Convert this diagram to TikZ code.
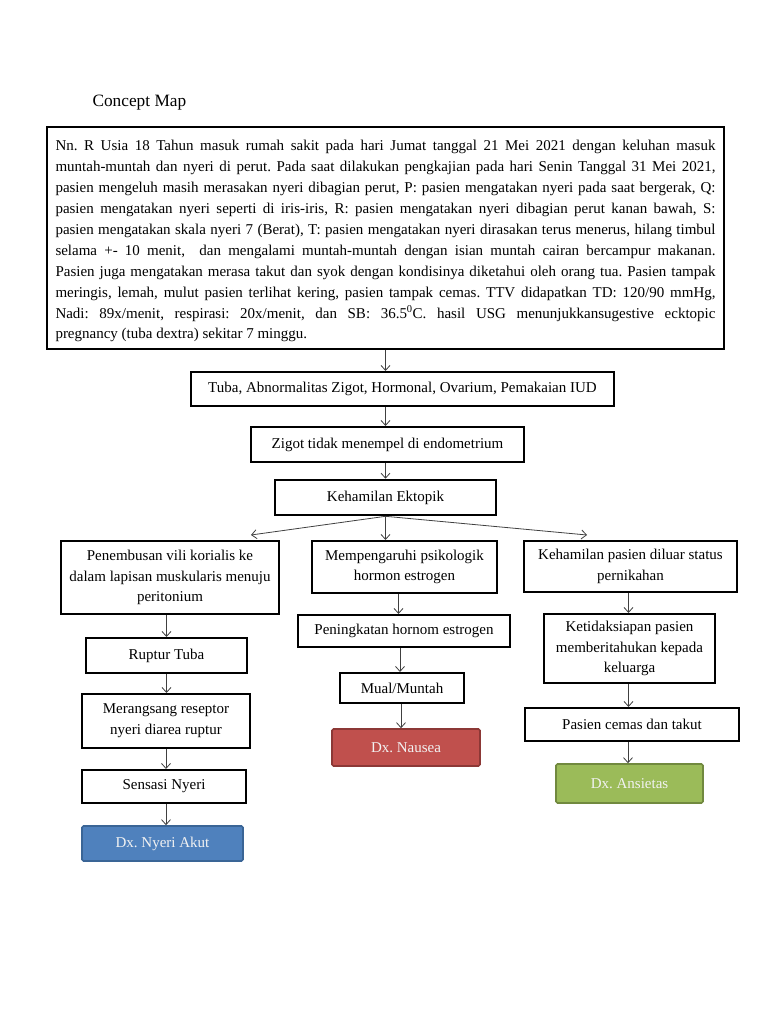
\documentclass[tikz,border=0pt]{standalone}
\usepackage{fontspec}
\setmainfont{Liberation Serif}
\usetikzlibrary{arrows.meta,positioning,calc}

\definecolor{dxblue}{HTML}{4F81BD}
\definecolor{dxblueline}{HTML}{3A6596}
\definecolor{dxred}{HTML}{C0504D}
\definecolor{dxredline}{HTML}{8C3836}
\definecolor{dxgreen}{HTML}{9BBB59}
\definecolor{dxgreenline}{HTML}{71893F}
\frenchspacing

\begin{document}
\begin{tikzpicture}[x=1pt, y=-1pt,
  box/.style={rectangle, draw, line width=2pt, align=center, inner sep=2pt,
    font=\fontsize{15}{20.8}\selectfont},
  dx/.style={rectangle, draw, line width=1.6pt, rounded corners=1.5pt,
    text=white!95!black, inner sep=2pt, font=\fontsize{15}{20.8}\selectfont},
  arrow/.style={-{Straight Barb[length=5pt,width=9pt]}, line width=0.8pt,
    draw=black!75}]
  \useasboundingbox (0,0) rectangle (768,1024);
  \node[anchor=west, font=\fontsize{17.3}{20}\selectfont] (title) at (89,103) {Concept Map};
  \node[box, line width=2.6pt, text width=660pt, align=justify, inner xsep=8.5pt,
    minimum height=222pt, font=\fontsize{15}{20.9}\selectfont] (case) at (385.5,238)
    {\rule{0pt}{17pt}Nn. R Usia 18 Tahun masuk rumah sakit pada hari Jumat tanggal 21 Mei 2021 dengan keluhan masuk\linebreak
     muntah-muntah dan nyeri di perut. Pada saat dilakukan pengkajian pada hari Senin Tanggal 31 Mei 2021,\linebreak
     pasien mengeluh masih merasakan nyeri dibagian perut, P: pasien mengatakan nyeri pada saat bergerak, Q:\linebreak
     pasien mengatakan nyeri seperti di iris-iris, R: pasien mengatakan nyeri dibagian perut kanan bawah, S:\linebreak
     pasien mengatakan skala nyeri 7 (Berat), T: pasien mengatakan nyeri dirasakan terus menerus, hilang timbul\linebreak
     selama +- 10 menit, \ dan mengalami muntah-muntah dengan isian muntah cairan bercampur makanan.\linebreak
     Pasien juga mengatakan merasa takut dan syok dengan kondisinya diketahui oleh orang tua. Pasien tampak\linebreak
     meringis, lemah, mulut pasien terlihat kering, pasien tampak cemas. TTV didapatkan TD: 120/90 mmHg,\linebreak
     Nadi: 89x/menit, respirasi: 20x/menit, dan SB: 36.5\textsuperscript{0}C. hasil USG menunjukkansugestive ecktopic\linebreak
     pregnancy (tuba dextra) sekitar 7 minggu.};
  % causes
  \node[box, minimum width=423pt, minimum height=34pt] (tuba) at (402.5,389)
    {Tuba, Abnormalitas Zigot, Hormonal, Ovarium, Pemakaian IUD};
  \node[box, minimum width=273pt, minimum height=35pt] (zigot) at (387.5,444.5)
    {Zigot tidak menempel di endometrium};
  \node[box, line width=2.6pt, minimum width=221pt, minimum height=35pt] (ekto) at (385.5,497.5)
    {Kehamilan Ektopik};
  % left branch
  \node[box, minimum width=218pt, minimum height=73pt] (vili) at (170,577.5)
    {Penembusan vili korialis ke\\dalam lapisan muskularis menuju\\peritonium};
  \node[box, minimum width=161pt, minimum height=35pt] (ruptur) at (166.5,655.5) {Ruptur Tuba};
  \node[box, minimum width=168pt, minimum height=54pt] (reseptor) at (166,721)
    {Merangsang reseptor\\nyeri diarea ruptur};
  \node[box, minimum width=164pt, minimum height=33pt] (sensasi) at (164,786.5) {Sensasi Nyeri};
  \node[dx, fill=dxblue, draw=dxblueline, minimum width=161pt, minimum height=35pt] (nyeri)
    at (162.5,843.5) {Dx. Nyeri Akut};
  % middle branch
  \node[box, minimum width=185pt, minimum height=52pt] (psiko) at (404.5,567)
    {Mempengaruhi psikologik\\hormon estrogen};
  \node[box, minimum width=212pt, minimum height=32pt] (estro) at (404,631)
    {Peningkatan hornom estrogen};
  \node[box, minimum width=124pt, minimum height=30pt] (mual) at (402,688) {Mual/Muntah};
  \node[dx, fill=dxred, draw=dxredline, minimum width=148pt, minimum height=37pt] (nausea)
    at (406,747.5) {Dx. Nausea};
  % right branch
  \node[box, minimum width=213pt, minimum height=51pt] (nikah) at (630.5,566.5)
    {Kehamilan pasien diluar status\\pernikahan};
  \node[box, minimum width=171pt, minimum height=69pt] (siap) at (629.5,648.5)
    {Ketidaksiapan pasien\\memberitahukan kepada\\keluarga};
  \node[box, minimum width=214pt, minimum height=33pt] (cemas) at (632,724.5)
    {Pasien cemas dan takut};
  \node[dx, fill=dxgreen, draw=dxgreenline, minimum width=147pt, minimum height=39pt] (ansietas)
    at (629.5,783.5) {Dx. Ansietas};
  % connectors
  \draw[arrow] (case.south) -- (case.south |- tuba.north);
  \draw[arrow] (tuba.south -| case) -- (case |- zigot.north);
  \draw[arrow] (zigot.south -| case) -- (case |- ekto.north);
  \draw[arrow] (ekto.south) -- ([xshift=-29pt,yshift=5pt]vili.north east);
  \draw[arrow] (ekto.south) -- (ekto.south |- psiko.north);
  \draw[arrow] (ekto.south) -- ([xshift=64pt,yshift=5pt]nikah.north west);
  \draw[arrow] (ruptur.north |- vili.south) -- (ruptur.north);
  \draw[arrow] (ruptur.south) -- (ruptur.south |- reseptor.north);
  \draw[arrow] (reseptor.south) -- (reseptor.south |- sensasi.north);
  \draw[arrow] ([xshift=2pt]sensasi.south) -- ([xshift=2pt]sensasi.south |- nyeri.north);
  \draw[arrow] ([xshift=-6pt]psiko.south) -- ([xshift=-6pt]psiko.south |- estro.north);
  \draw[arrow] ([xshift=-2pt]mual.north |- estro.south) -- ([xshift=-2pt]mual.north);
  \draw[arrow] ([xshift=-1pt]mual.south) -- ([xshift=-1pt]mual.south |- nausea.north);
  \draw[arrow] ([xshift=-2pt]nikah.south) -- ([xshift=-2pt]nikah.south |- siap.north);
  \draw[arrow] ([xshift=-1pt]siap.south) -- ([xshift=-1pt]siap.south |- cemas.north);
  \draw[arrow] ([xshift=-4pt]cemas.south) -- ([xshift=-4pt]cemas.south |- ansietas.north);
\end{tikzpicture}
\end{document}
